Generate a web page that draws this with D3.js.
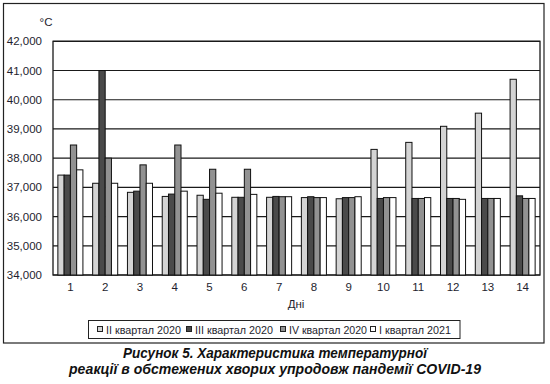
<!DOCTYPE html>
<html>
<head>
<meta charset="utf-8">
<script src="https://cdn.jsdelivr.net/npm/d3@7"></script>
<style>
  body { margin: 0; background: #fff; }
  svg { display: block; font-family: "Liberation Sans", Arial, sans-serif; }
  .tick-label { font-size: 11.5px; fill: #1e1e2e; }
  .legend-label { font-size: 11.5px; fill: #1e1e2e; }
  .caption { font-size: 14px; font-weight: bold; font-style: italic; fill: #111; }
</style>
</head>
<body>
<div id="chart"></div>
<script>
// Days on the x axis
const days = ['1', '2', '3', '4', '5', '6', '7', '8', '9', '10', '11', '12', '13', '14'];
const seriesNames = ['II квартал 2020', 'III квартал 2020', 'IV квартал 2020', 'I квартал 2021'];
const seriesColors = ['#d4d4d4', '#4a4a4a', '#929292', '#ffffff'];

// Temperature, °C
const q2_2020 = [37.42, 37.14, 36.83, 36.69, 36.73, 36.66, 36.66, 36.65, 36.61, 38.30, 38.54, 39.09, 39.54, 40.70];
const q3_2020 = [37.42, 41.00, 36.87, 36.77, 36.59, 36.66, 36.69, 36.68, 36.65, 36.62, 36.62, 36.62, 36.62, 36.71];
const q4_2020 = [38.45, 38.00, 37.77, 38.45, 37.62, 37.62, 36.68, 36.65, 36.65, 36.65, 36.62, 36.62, 36.62, 36.62];
const q1_2021 = [37.60, 37.14, 37.14, 36.87, 36.80, 36.76, 36.68, 36.65, 36.68, 36.65, 36.65, 36.59, 36.62, 36.62];
const yTicks = [34, 35, 36, 37, 38, 39, 40, 41, 42];

const series = [q2_2020, q3_2020, q4_2020, q1_2021];

const W = 550, H = 384;
const plot = { left: 53, right: 540, top: 41.3, bottom: 275 };

const svg = d3.select('#chart').append('svg')
  .attr('width', W)
  .attr('height', H);

svg.append('rect').attr('width', W).attr('height', H).attr('fill', '#fff');

// outer frame
svg.append('rect')
  .attr('x', 3.5).attr('y', 3.5)
  .attr('width', 540.5).attr('height', 339.5)
  .attr('fill', 'none').attr('stroke', '#222').attr('stroke-width', 1.2);

const x = d3.scaleBand().domain(days).range([plot.left, plot.right])
  .paddingInner(0.28).paddingOuter(0.14);
const xs = d3.scaleBand().domain(d3.range(series.length)).range([0, x.bandwidth()]);
const y = d3.scaleLinear().domain([34, 42]).range([plot.bottom, plot.top]);

const fmt = v => d3.format('.3f')(v).replace('.', ',');

// gridlines
svg.append('g').selectAll('line')
  .data(yTicks)
  .join('line')
    .attr('x1', plot.left).attr('x2', plot.right)
    .attr('y1', d => y(d)).attr('y2', d => y(d))
    .attr('stroke', '#1a1a1a').attr('stroke-width', 1.2);

// plot frame
svg.append('rect')
  .attr('x', plot.left).attr('y', plot.top)
  .attr('width', plot.right - plot.left).attr('height', plot.bottom - plot.top)
  .attr('fill', 'none').attr('stroke', '#1a1a1a').attr('stroke-width', 1.3);

// bars
const groups = svg.append('g').selectAll('g')
  .data(days)
  .join('g')
    .attr('transform', d => `translate(${x(d)},0)`);

groups.selectAll('rect')
  .data((d, i) => series.map((s, k) => ({ k, v: s[i] })))
  .join('rect')
    .attr('x', d => xs(d.k))
    .attr('y', d => y(d.v))
    .attr('width', xs.bandwidth())
    .attr('height', d => y(34) - y(d.v))
    .attr('fill', d => seriesColors[d.k])
    .attr('stroke', '#111')
    .attr('stroke-width', 1);

// y labels
svg.append('g').selectAll('text')
  .data(yTicks)
  .join('text')
    .attr('class', 'tick-label')
    .attr('x', 42)
    .attr('y', d => y(d) + 4)
    .attr('text-anchor', 'end')
    .text(fmt);

// x labels
svg.append('g').selectAll('text')
  .data(days)
  .join('text')
    .attr('class', 'tick-label')
    .attr('x', d => x(d) + x.bandwidth() / 2)
    .attr('y', 291)
    .attr('text-anchor', 'middle')
    .text(d => d);

svg.append('text').attr('class', 'tick-label')
  .attr('x', 46).attr('y', 26).attr('text-anchor', 'middle').text('°C');
svg.append('text').attr('class', 'tick-label')
  .attr('x', 296).attr('y', 308).attr('text-anchor', 'middle').text('Дні');

// legend (narrow font in the original, so squeeze to fit)
const legend = svg.append('g');
legend.append('rect')
  .attr('x', 88.5).attr('y', 320.5).attr('width', 371.5).attr('height', 18)
  .attr('fill', '#fff').attr('stroke', '#222').attr('stroke-width', 1);
const legendX = [97, 186, 280, 370];
const legendW = [75, 78, 78, 72];
seriesNames.forEach((name, k) => {
  legend.append('rect')
    .attr('x', legendX[k] + 0.5).attr('y', 326.5).attr('width', 5).attr('height', 5)
    .attr('fill', seriesColors[k]).attr('stroke', '#222').attr('stroke-width', 1);
  legend.append('text').attr('class', 'legend-label')
    .attr('x', legendX[k] + 9).attr('y', 333.5)
    .attr('textLength', legendW[k]).attr('lengthAdjust', 'spacingAndGlyphs')
    .text(name);
});

// caption
svg.append('text').attr('class', 'caption')
  .attr('x', 123).attr('y', 358)
  .attr('textLength', 304).attr('lengthAdjust', 'spacingAndGlyphs')
  .text('Рисунок 5. Характеристика температурної');
svg.append('text').attr('class', 'caption')
  .attr('x', 69).attr('y', 373.5)
  .attr('textLength', 412).attr('lengthAdjust', 'spacingAndGlyphs')
  .text('реакції в обстежених хворих упродовж пандемії COVID-19');
</script>
</body>
</html>
